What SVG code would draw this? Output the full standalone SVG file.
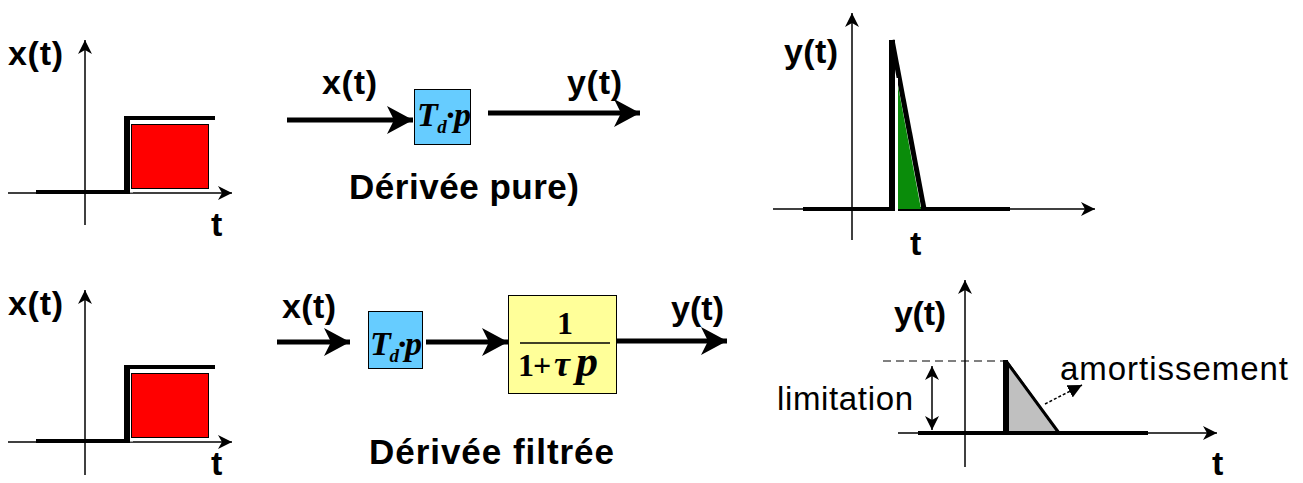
<svg xmlns="http://www.w3.org/2000/svg" width="1303" height="483" viewBox="0 0 1303 483">
<style>
.lbl{font-family:"Liberation Sans",Arial,sans-serif;font-weight:bold;font-size:34px;fill:#000}
.big{font-family:"Liberation Sans",Arial,sans-serif;font-weight:bold;font-size:35px;fill:#000}
.reg{font-family:"Liberation Sans",Arial,sans-serif;font-size:33px;fill:#000}
.math{font-family:"Liberation Serif","Times New Roman",serif;font-weight:bold;fill:#000}
.axis{stroke:#000;stroke-width:1.5;fill:none}
.thick{stroke:#000;stroke-width:4;fill:none}
.flow{stroke:#000;stroke-width:5;fill:none}
</style>
<defs>
<marker id="ax" markerUnits="userSpaceOnUse" viewBox="0 -8 16 16" refX="14" refY="0" markerWidth="16" markerHeight="16" orient="auto">
<path d="M0,-7 L14,0 L0,7 L4,0 Z" fill="#000"/>
</marker>
<marker id="axs" markerUnits="userSpaceOnUse" viewBox="0 -8 16 16" refX="14" refY="0" markerWidth="16" markerHeight="16" orient="auto-start-reverse">
<path d="M0,-7 L14,0 L0,7 L4,0 Z" fill="#000"/>
</marker>
<marker id="big" markerUnits="userSpaceOnUse" viewBox="0 -15 28 30" refX="26" refY="0" markerWidth="28" markerHeight="30" orient="auto">
<path d="M0,-14 L26,0 L0,14 L7,0 Z" fill="#000"/>
</marker>
<marker id="tri" markerUnits="userSpaceOnUse" viewBox="0 -8 16 16" refX="14" refY="0" markerWidth="16" markerHeight="16" orient="auto">
<path d="M0,-7 L14,0 L0,7 Z" fill="#000"/>
</marker>
</defs>

<g id="plot-input-top">
<line class="axis" x1="8" y1="193" x2="232" y2="193" marker-end="url(#ax)"/>
<line class="axis" x1="85" y1="225" x2="85" y2="40" marker-end="url(#ax)"/>
<line class="thick" x1="36" y1="192" x2="126" y2="192"/>
<rect x="124" y="117" width="6" height="77" fill="#000"/>
<rect x="124" y="116" width="91" height="4" fill="#000"/>
<rect x="131.5" y="124.5" width="77" height="64" fill="#FF0000" stroke="#000" stroke-width="1"/>
<rect x="130" y="189.5" width="3" height="3" fill="#fff"/>
<text class="lbl" x="8" y="65" textLength="55">x(t)</text>
<text class="lbl" x="211" y="236">t</text>
</g>

<g id="plot-input-bottom">
<line class="axis" x1="8" y1="442" x2="232" y2="442" marker-end="url(#ax)"/>
<line class="axis" x1="85" y1="475" x2="85" y2="290" marker-end="url(#ax)"/>
<line class="thick" x1="36" y1="441" x2="126" y2="441"/>
<rect x="124" y="366" width="6" height="77" fill="#000"/>
<rect x="124" y="365" width="91" height="4" fill="#000"/>
<rect x="131.5" y="373.5" width="77" height="64" fill="#FF0000" stroke="#000" stroke-width="1"/>
<rect x="130" y="438.5" width="3" height="3" fill="#fff"/>
<text class="lbl" x="8" y="315" textLength="55">x(t)</text>
<text class="lbl" x="211" y="475">t</text>
</g>

<g id="block-td-top">
<rect x="414.5" y="89.5" width="56" height="55" fill="#66CCFF" stroke="#000" stroke-width="1"/>
<text class="math" font-style="italic" x="417" y="126" font-size="34" textLength="54">T<tspan font-size="19" dy="7">d</tspan><tspan dy="-7">·p</tspan></text>
</g>

<g id="block-td-bottom">
<rect x="368.5" y="311.5" width="54" height="57" fill="#66CCFF" stroke="#000" stroke-width="1"/>
<text class="math" font-style="italic" x="370" y="355" font-size="34" textLength="52">T<tspan font-size="19" dy="7">d</tspan><tspan dy="-7">·p</tspan></text>
</g>

<g id="block-filter">
<rect x="508.5" y="295.5" width="108" height="98" fill="#FFFF99" stroke="#000" stroke-width="1"/>
<text class="math" x="565" y="334" font-size="32" text-anchor="middle">1</text>
<line x1="520" y1="343" x2="610" y2="343" stroke="#000" stroke-width="1.5"/>
<text class="math" x="518" y="376" font-size="32">1</text>
<text class="math" x="533" y="376" font-size="32" font-weight="normal">+</text>
<text class="math" x="554" y="376" font-size="36" font-style="italic">τ</text>
<text class="math" x="576" y="376" font-size="44" font-style="italic">p</text>
</g>

<g id="connectors">
<line class="flow" x1="287" y1="120" x2="413" y2="120" marker-end="url(#big)"/>
<line class="flow" x1="488" y1="113" x2="640" y2="113" marker-end="url(#big)"/>
<line class="flow" x1="277" y1="342" x2="350" y2="342" marker-end="url(#big)"/>
<line class="flow" x1="426" y1="342" x2="508" y2="342" marker-end="url(#big)"/>
<line class="flow" x1="617" y1="341" x2="727" y2="341" marker-end="url(#big)"/>
</g>

<g id="labels-middle">
<text class="lbl" x="322" y="94" textLength="55">x(t)</text>
<text class="lbl" x="567" y="94" textLength="55">y(t)</text>
<text class="big" x="349" y="199" textLength="230">Dérivée pure)</text>
<text class="lbl" x="282" y="318" textLength="54">x(t)</text>
<text class="lbl" x="671" y="320" textLength="53">y(t)</text>
<text class="big" x="369" y="464" textLength="245">Dérivée filtrée</text>
</g>

<g id="plot-output-pure">
<line class="axis" x1="773" y1="209" x2="1095" y2="209" marker-end="url(#ax)"/>
<line class="axis" x1="852" y1="240" x2="852" y2="13" marker-end="url(#ax)"/>
<line class="thick" x1="803" y1="209" x2="1010" y2="209"/>
<rect x="889" y="40" width="6" height="171" fill="#000"/>
<line x1="892" y1="40" x2="924" y2="209" stroke="#000" stroke-width="5"/>
<polygon points="898,86 898,209 921,209" fill="#0A8C0A"/>
<rect x="895" y="78" width="3" height="133" fill="#fff"/>
<text class="lbl" x="784" y="63" textLength="54">y(t)</text>
<text class="lbl" x="910" y="255">t</text>
</g>

<g id="plot-output-filtered">
<line class="axis" x1="898" y1="433" x2="1217" y2="433" marker-end="url(#ax)"/>
<line class="axis" x1="965" y1="467" x2="965" y2="280" marker-end="url(#ax)"/>
<line class="thick" x1="918" y1="433" x2="1148" y2="433"/>
<line x1="883" y1="361" x2="1003" y2="361" stroke="#000" stroke-width="1" stroke-dasharray="8,5"/>
<polygon points="1008,363 1008,432 1058,432" fill="#C0C0C0" stroke="#000" stroke-width="2"/>
<rect x="1003" y="360" width="5" height="74" fill="#000"/>
<line x1="1006" y1="361" x2="1059" y2="433" stroke="#000" stroke-width="3"/>
<line x1="932" y1="366" x2="932" y2="430" stroke="#000" stroke-width="1.5" marker-start="url(#axs)" marker-end="url(#ax)"/>
<line x1="1045" y1="404" x2="1082" y2="385" stroke="#000" stroke-width="1.5" stroke-dasharray="3,2" marker-end="url(#tri)"/>
<text class="lbl" x="894" y="325" textLength="52">y(t)</text>
<text class="reg" x="777" y="410" textLength="136">limitation</text>
<text class="reg" x="1060" y="380" textLength="228">amortissement</text>
<text class="lbl" x="1212" y="475">t</text>
</g>
</svg>
